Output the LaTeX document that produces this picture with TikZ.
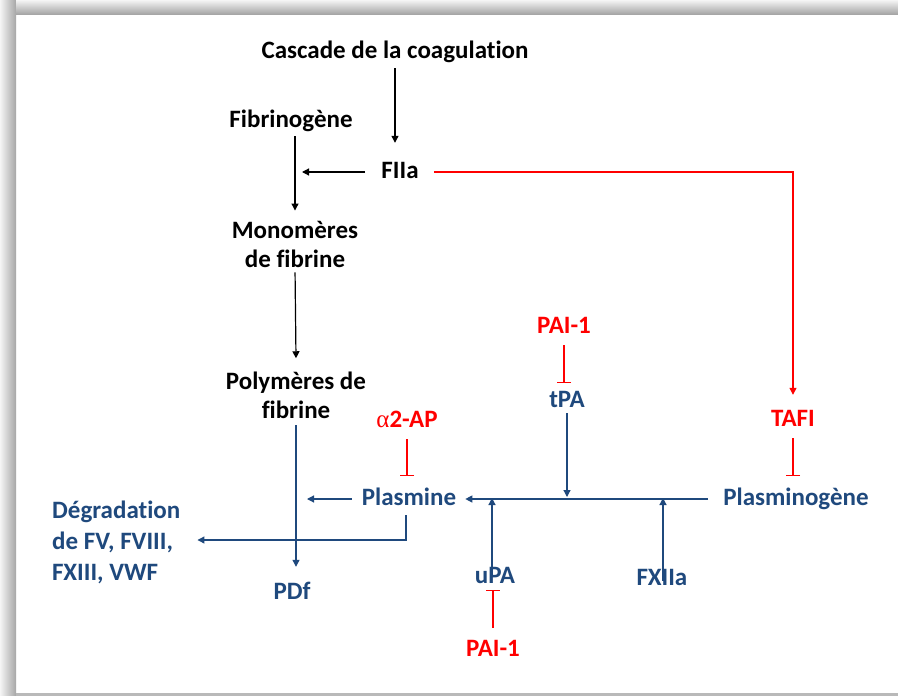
\documentclass[tikz,border=0pt]{standalone}
\usepackage{fontspec}
\setmainfont{Carlito}[Ligatures={NoCommon}]
\newfontfamily\greekfont{Liberation Serif}
\usetikzlibrary{arrows.meta}
\definecolor{navy}{HTML}{1F497D}
\definecolor{alarm}{HTML}{FF0000}
\begin{document}
\begin{tikzpicture}[x=1pt,y=-1pt,
  txt/.style={inner sep=0pt, anchor=base, font=\fontsize{25}{30}\selectfont\bfseries,
    text height=17pt, text depth=5pt},
  % multi-line labels: the base anchor sits on the last line
  mtxt/.style={inner sep=0pt, anchor=base, align=center, font=\fontsize{25}{29}\selectfont\bfseries},
  conn/.style={line width=1.2pt},
  arr/.style={conn, -{Triangle[length=7pt,width=7pt]}},
  inh/.style={conn, -{Bar[width=14pt]}},
]
% sheet with its shadowed edges
\useasboundingbox (0,0) rectangle (898,696);
\fill[white] (0,0) rectangle (898,696);
\shade[left color=gray!8, right color=gray!70] (0,0) rectangle (16,696);
\shade[top color=gray!8, bottom color=gray!70] (16,0) rectangle (898,14);
\fill[gray!55] (16,693) rectangle (898,696);

% coagulation side
\node[txt] (casc) at (395,58) {Cascade de la coagulation};
\node[txt] (fib) at (291,127) {Fibrinogène};
\node[txt] (fiia) at (400,178) {FIIa};
\node[mtxt] (mono) at (295,267) {Monomères\\de fibrine};
\node[mtxt] (poly) at (296,418) {Polymères de\\fibrine};

% fibrinolysis side
\node[txt, text=alarm] (pai1) at (564,333) {PAI-1};
\node[txt, text=navy] (tpa) at (567,407) {tPA};
\node[txt, text=alarm] (ap) at (407,427) {{\greekfont\mdseries α}2-AP};
\node[txt, text=alarm] (tafi) at (793,426) {TAFI};
\node[txt, text=navy] (pla) at (409,505) {Plasmine};
\node[txt, text=navy] (plg) at (796,505) {Plasminogène};
\node[mtxt, text=navy, align=left, anchor=base west, font=\fontsize{25}{31}\selectfont\bfseries]
  (deg) at (52,580) {Dégradation\\de FV, FVIII,\\FXIII, VWF};
\node[txt, text=navy] (pdf) at (292,599) {PDf};
\node[txt, text=navy] (upa) at (495,583) {uPA};
\node[txt, text=alarm] (pai2) at (493,656) {PAI-1};
\node[txt, text=navy] (fx) at (662,585) {FXIIa};

\coordinate (uj) at (492,498);
\coordinate (fj) at (663,498);
\coordinate (bend) at (406,540);

% black connectors
\draw[arr, shorten <=5pt, shorten >=18pt] (casc.south) -- (casc.south |- fiia.north);
\draw[arr, shorten <=16pt, shorten >=7pt] (fiia.west) -- (mono |- fiia.west);
\draw[arr, shorten <=4pt] (mono |- fib.south) -- ([yshift=10pt]mono.north);
\draw[arr, shorten <=5pt] (mono.south) -- ([yshift=13pt]poly.north);

% red connectors
\draw[arr, alarm, shorten <=15pt, shorten >=14pt] (fiia.east) -- (tafi |- fiia.east) -- (tafi.north);
\draw[inh, alarm, shorten <=7pt, shorten >=12pt] (tafi.south) -- (tafi |- plg.north);
\draw[inh, alarm, shorten <=7pt, shorten >=7pt] (pai1.south) -- (pai1 |- tpa.north);
\draw[inh, alarm, shorten <=7pt, shorten >=12pt] (ap.south) -- (ap |- pla.north);
\draw[inh, alarm, shorten <=11pt, shorten >=2pt] (pai2.north) -- (pai2 |- upa.south);

% blue connectors
\draw[arr, navy, shorten <=15pt, shorten >=9pt] (plg.west) -- (pla.east);
\draw[arr, navy, shorten <=1pt, shorten >=2pt] (tpa.south) -- (tpa |- pla.east);
\draw[arr, navy, shorten <=-11pt, shorten >=0pt] (uj |- upa.north) -- (uj);
\draw[arr, navy, shorten <=-13pt, shorten >=0pt] (fj |- fx.north) -- (fj);
\draw[arr, navy, shorten <=10pt, shorten >=11pt] (pla.west) -- (poly |- pla.west);
\draw[arr, navy, shorten <=7pt, shorten >=15pt] (poly.south) -- (poly |- pdf.north);
\draw[arr, navy, shorten <=5pt, shorten >=17pt] (bend |- pla.south) -- (bend) -- (deg.east |- bend);
\end{tikzpicture}
\end{document}
